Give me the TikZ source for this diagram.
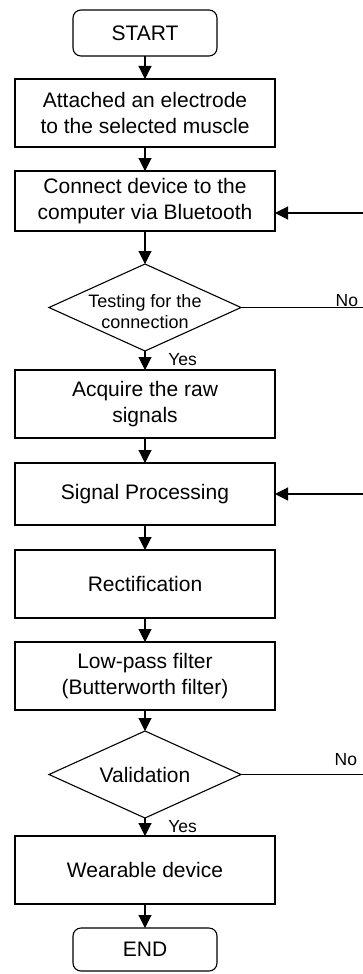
\documentclass[tikz,border=0pt]{standalone}
\usepackage{fontspec}
\setmainfont{Liberation Sans}
\usetikzlibrary{shapes.geometric}
\usetikzlibrary{arrows.meta}
\usetikzlibrary{positioning}
\tikzset{>={Triangle[length=13pt,width=13pt]}}

\begin{document}
\begin{tikzpicture}[x=1pt, y=-1pt, line width=1.1pt]
        % terminal = start/end, process = plain step, decision = test diamond
        \tikzstyle{every node}=[font=\fontsize{21}{26}\selectfont, align=center, node distance=24pt, outer sep=0pt]
        \tikzstyle{terminal}=[draw, rounded corners=8pt, minimum width=144pt, minimum height=46pt]
        \tikzstyle{process}=[draw, minimum width=260pt, minimum height=68pt, inner sep=2pt]
        \tikzstyle{decision}=[draw, diamond, minimum width=192pt, minimum height=87pt, inner sep=0pt]
        \tikzstyle{small}=[font=\fontsize{17.5}{20}\selectfont]
        \tikzstyle{every edge}=[draw, ->]
        \useasboundingbox (0,0) rectangle (363,974);

        \node[terminal] (start) at (145,33) {START};
        \node[process] (attach) [below=23pt of start] {Attached an electrode\\to the selected muscle};
        \draw (start) edge (attach);
        \node[process, minimum height=60pt] (connect) [below=of attach] {Connect device to the\\computer via Bluetooth};
        \draw (attach) edge (connect);
        \node[decision] (test) [below=33pt of connect] {};
        \node[font=\fontsize{18}{20.5}\selectfont] (testtxt) at ([yshift=-4pt]test.center) {Testing for the\\connection};
        \draw (connect) edge (test);
        \node[process] (acquire) [below=19pt of test] {Acquire the raw\\signals};
        \draw (test) edge (acquire);
        \node[small, anchor=west] (yesA) at ([xshift=20pt, yshift=-9pt]test.south) {Yes};
        \node[process, minimum height=62pt] (signal) [below=25pt of acquire] {Signal Processing};
        \draw (acquire) edge (signal);
        \node[process] (rectify) [below=25pt of signal] {Rectification};
        \draw (signal) edge (rectify);
        \node[process] (lowpass) [below=of rectify] {Low-pass filter\\(Butterworth filter)};
        \draw (rectify) edge (lowpass);
        \node[decision] (valid) [below=21pt of lowpass] {};
        \node (validtxt) at (valid.center) {Validation};
        \draw (lowpass) edge (valid);
        \node[process] (wear) [below=18pt of valid] {Wearable device};
        \draw (valid) edge (wear);
        \node[small, anchor=west] (yesB) at ([xshift=20pt, yshift=-9pt]valid.south) {Yes};
        \node[terminal, minimum height=43pt] (stop) [below=of wear] {END};
        \draw (wear) edge (stop);

        % the "No" branches run off to the right
        \coordinate (redge) at (363,0);
        \coordinate (noA) at (test.east -| redge);
        \coordinate (noB) at (valid.east -| redge);
        \draw (test.east) -- (noA);
        \draw (valid.east) -- (noB);
        \node[small, anchor=base east, inner sep=0pt] (noAtxt) at (358,306) {No};
        \node[small, anchor=base east, inner sep=0pt] (noBtxt) at (357,765) {No};

        % and come back in from the right
        \coordinate (backA) at (363,213);
        \coordinate (backB) at (redge |- signal.east);
        \draw[->] (backA) -- (backA -| connect.east);
        \draw[->] (backB) -- (signal.east);
\end{tikzpicture}
\end{document}
